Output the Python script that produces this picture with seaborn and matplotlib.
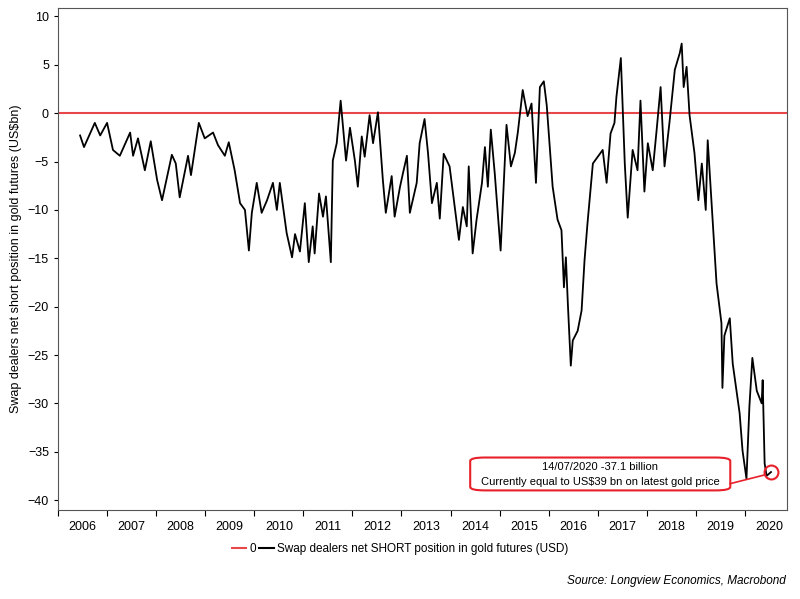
import matplotlib
matplotlib.use("Agg")
import matplotlib.pyplot as plt
import seaborn as sns
import pandas as pd
from matplotlib.patches import FancyBboxPatch
from matplotlib.lines import Line2D

plt.rcParams["font.family"] = "Liberation Sans"

offsets = [0.45,0.53,0.75,0.86,1.0,1.12,1.26,1.47,1.53,1.63,1.77,1.89,2.02,2.12,2.32,2.40,2.48,2.65,2.71,2.87,
 2.99,3.16,3.26,3.40,3.48,3.60,3.71,3.81,3.89,3.95,4.05,4.15,4.26,4.38,4.46,4.52,4.66,4.77,4.83,4.93,
 5.03,5.11,5.19,5.23,5.32,5.40,5.46,5.56,5.60,5.68,5.76,5.87,5.95,6.05,6.11,6.19,6.25,6.35,6.42,6.52,
 6.62,6.68,6.80,6.86,6.97,7.03,7.11,7.17,7.31,7.37,7.47,7.54,7.62,7.72,7.78,7.86,7.98,8.11,8.17,8.25,
 8.33,8.37,8.45,8.53,8.64,8.70,8.76,8.82,8.90,9.02,9.14,9.23,9.31,9.37,9.47,9.57,9.65,9.74,9.82,9.90,
 9.96,10.08,10.18,10.26,10.29,10.31,10.35,10.39,10.45,10.49,10.59,10.67,10.73,10.79,10.90,11.00,11.10,11.18,11.26,11.34,
 11.38,11.47,11.55,11.61,11.71,11.81,11.87,11.95,12.02,12.12,12.20,12.28,12.36,12.46,12.57,12.67,12.71,12.75,12.81,12.87,
 12.97,13.05,13.12,13.20,13.24,13.32,13.42,13.52,13.54,13.58,13.69,13.75,13.89,13.95,14.03,14.09,14.15,14.24,14.34,14.36,
 14.40,14.44,14.53]
values = [-2.3,-3.5,-1.0,-2.3,-1.0,-3.8,-4.4,-2.0,-4.4,-2.6,-5.9,-2.9,-6.9,-9.0,-4.3,-5.2,-8.7,-4.4,-6.4,-1.0,
 -2.6,-2.0,-3.3,-4.4,-3.0,-5.9,-9.3,-10.0,-14.2,-10.3,-7.2,-10.3,-9.0,-7.2,-10.0,-7.2,-12.4,-14.9,-12.5,-14.3,
 -9.3,-15.4,-11.7,-14.5,-8.3,-10.7,-8.6,-15.4,-4.9,-3.1,1.3,-4.9,-1.5,-4.9,-7.6,-2.4,-4.5,-0.2,-3.1,0.1,
 -6.9,-10.3,-6.5,-10.7,-7.6,-6.2,-4.4,-10.3,-7.2,-3.1,-0.6,-4.1,-9.3,-7.2,-10.9,-4.2,-5.5,-10.7,-13.1,-9.7,
 -11.7,-5.5,-14.5,-11.0,-7.2,-3.5,-7.6,-1.7,-6.2,-14.2,-1.2,-5.5,-4.1,-2.0,2.4,-0.3,1.0,-7.2,2.7,3.3,
 0.8,-7.6,-11.0,-12.1,-15.5,-18.0,-14.9,-19.7,-26.1,-23.5,-22.5,-20.4,-15.2,-11.4,-5.2,-4.5,-3.8,-7.2,-2.1,-1.0,
 1.7,5.7,-5.2,-10.8,-3.8,-5.9,1.3,-8.1,-3.1,-5.9,-1.7,2.7,-5.5,-1.0,4.5,6.2,7.2,2.7,4.8,-0.2,
 -4.1,-9.0,-5.2,-10.0,-2.8,-9.3,-17.6,-21.7,-28.4,-23.0,-21.2,-25.9,-31.0,-34.9,-37.8,-30.3,-25.3,-28.7,-30.0,-27.6,
 -36.2,-37.5,-37.1]
years = list(range(2006, 2021))
df = pd.DataFrame({"t": [2006 + o for o in offsets], "v": values})

fig = plt.figure(figsize=(8, 5.99), dpi=100)
ax = fig.add_axes([0.0725, 0.149, 0.9115, 0.838])
ax.axhline(0, color="#e8474a", lw=1.5, zorder=1)
sns.lineplot(data=df, x="t", y="v", ax=ax, color="black", lw=1.3, zorder=2)
ax.set_xlim(2006, 2020.86)
ax.set_ylim(-41, 10.9)
ax.set_yticks(range(-40, 11, 5))
ax.set_xticks(years)
ax.set_xticklabels([])
ax.set_xticks([y + 0.5 for y in years], minor=True)
ax.set_xticklabels([str(y) for y in years], minor=True)
ax.tick_params(axis="x", which="minor", length=0, pad=8, labelsize=9)
ax.tick_params(axis="x", which="major", length=4, direction="out")
ax.tick_params(axis="y", labelsize=9, length=3)
ax.set_xlabel("")
ax.set_ylabel("Swap dealers net short position in gold futures (US$bn)", fontsize=9)
for s in ax.spines.values():
    s.set_color("#555555")

# annotation
ax.plot([2020.53], [-37.1], marker="o", ms=10, mfc="none", mec="#e8202a", mew=1.5, zorder=4)
box = FancyBboxPatch((2014.4, -39.0), 5.3, 3.4, boxstyle="round,pad=0,rounding_size=0.3",
                     fc="white", ec="#e8202a", lw=1.5, zorder=3, mutation_aspect=1.2)
ax.add_patch(box)
ax.plot([2019.7, 2020.4], [-38.3, -37.4], color="#e8202a", lw=1.2, zorder=3)
ax.text(2017.05, -36.6, "14/07/2020 -37.1 billion", ha="center", va="center", fontsize=8, zorder=5)
ax.text(2017.05, -38.1, "Currently equal to US$39 bn on latest gold price", ha="center", va="center", fontsize=8, zorder=5)

handles = [Line2D([], [], color="#e8474a", lw=1.5),
           Line2D([], [], color="black", lw=1.5)]
fig.legend(handles, ["0", "Swap dealers net SHORT position in gold futures (USD)"],
           loc="center", bbox_to_anchor=(0.5, 0.083), ncol=2, frameon=False, fontsize=8.5,
           handlelength=1.2, handletextpad=0.3, columnspacing=0.3)
fig.text(0.982, 0.03, "Source: Longview Economics, Macrobond", ha="right", va="center",
         fontsize=8.5, style="italic")
fig.savefig("out.png", dpi=100)
